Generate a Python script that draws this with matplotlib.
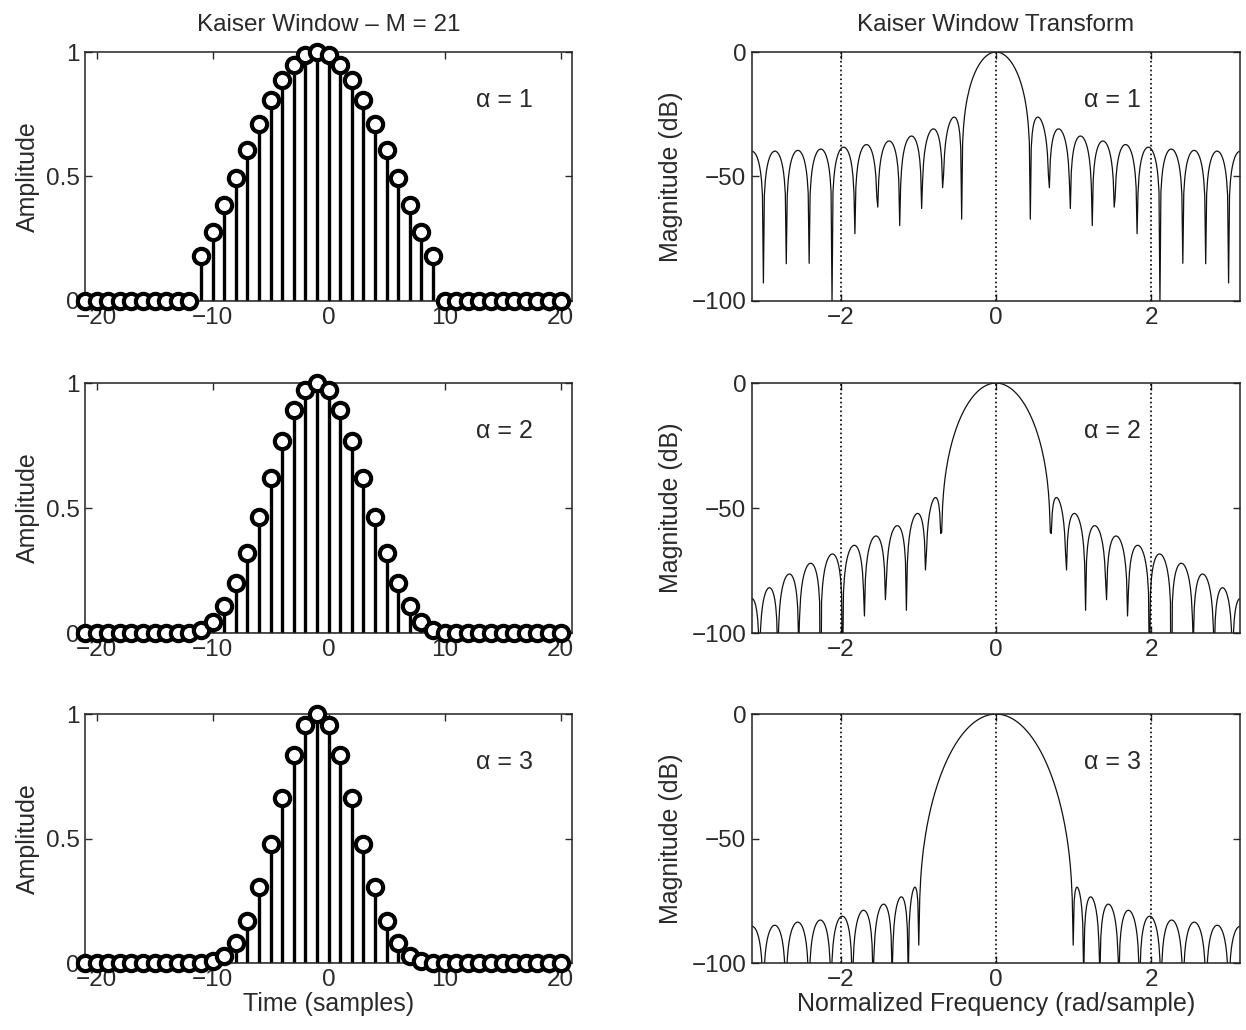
import numpy as np
import matplotlib.pyplot as plt

plt.rcParams['font.family'] = ['Liberation Sans', 'DejaVu Sans']
plt.rcParams['text.color'] = '#2a2a2a'
plt.rcParams['axes.labelcolor'] = '#2a2a2a'
plt.rcParams['xtick.color'] = '#2a2a2a'
plt.rcParams['ytick.color'] = '#2a2a2a'

# sample index axis and where the 21-point window sits on it
n_axis = np.arange(-21, 21)
win_start = -11

# left half of each window (first sample up to the peak), windows are symmetric
alphas = [1, 2, 3]
half_a1 = [0.18255, 0.27870, 0.38448, 0.49548, 0.60671, 0.71281, 0.80848, 0.88876, 0.94942, 0.98718, 1.00000]
half_a2 = [0.01148, 0.04547, 0.10648, 0.19842, 0.32022, 0.46486, 0.61958, 0.76748, 0.89026, 0.97155, 1.00000]
half_a3 = [0.00061, 0.00760, 0.03008, 0.08049, 0.17041, 0.30470, 0.47623, 0.66378, 0.83535, 0.95633, 1.00000]
halves = [half_a1, half_a2, half_a3]

n_freq = 512


def full_window(half):
    half = np.array(half)
    return np.concatenate([half, half[-2::-1]])


def transform_db(w):
    # DTFT of the window on a grid over [-pi, pi)
    omega = np.linspace(-np.pi, np.pi, n_freq, endpoint=False)
    k = np.arange(len(w)) - (len(w) - 1) / 2
    H = np.abs(np.exp(-1j * np.outer(omega, k)) @ w)
    return omega, 20 * np.log10(H / H.max() + 1e-12)


def style_axes(ax):
    ax.tick_params(direction='in', top=True, right=True, length=5, width=1,
                   labelsize=17.5, pad=4)
    for s in ax.spines.values():
        s.set_linewidth(1.1)
        s.set_color('#222222')


fig = plt.figure(figsize=(12.46, 10.30), dpi=100)
rows = [(0.7078, 0.2417), (0.3854, 0.2427), (0.0650, 0.2417)]

for i, (a, half) in enumerate(zip(alphas, halves)):
    bottom, height = rows[i]
    w = full_window(half)
    vals = np.zeros(len(n_axis))
    start = win_start - n_axis[0]
    vals[start:start + len(w)] = w

    # window (stem plot)
    ax = fig.add_axes([0.0682, bottom, 0.391, height])
    ml, sl, bl = ax.stem(n_axis, vals, linefmt='k-', markerfmt='ko', basefmt='k-')
    plt.setp(sl, linewidth=2.4, color='black')
    plt.setp(ml, markersize=11, markerfacecolor='white', markeredgecolor='black',
             markeredgewidth=3, clip_on=False, zorder=5)
    plt.setp(bl, linewidth=1)
    ax.set_xlim(-21, 21)
    ax.set_ylim(0, 1)
    ax.set_xticks([-20, -10, 0, 10, 20])
    ax.set_yticks([0, 0.5, 1])
    ax.set_yticklabels(['0', '0.5', '1'])
    ax.set_ylabel('Amplitude', fontsize=18, labelpad=4)
    ax.text(0.862, 0.807, '\u03b1 = %d' % a, transform=ax.transAxes,
            fontsize=18, ha='center', va='center')
    style_axes(ax)
    if i == 0:
        ax.set_title('Kaiser Window \u2013 M = 21', fontsize=17.5, pad=15)
    if i == 2:
        ax.set_xlabel('Time (samples)', fontsize=18, labelpad=1)

    # transform magnitude
    ax2 = fig.add_axes([0.6035, bottom, 0.3917, height])
    omega, db = transform_db(w)
    ax2.plot(omega, db, color='#111111', linewidth=0.9)
    for xv in (-2, 0, 2):
        ax2.axvline(xv, color='black', linestyle=':', linewidth=1.2)
    ax2.set_xlim(-np.pi, np.pi)
    ax2.set_ylim(-100, 0)
    ax2.set_xticks([-2, 0, 2])
    ax2.set_yticks([-100, -50, 0])
    ax2.set_ylabel('Magnitude (dB)', fontsize=18, labelpad=6)
    ax2.text(0.738, 0.807, '\u03b1 = %d' % a, transform=ax2.transAxes,
             fontsize=18, ha='center', va='center')
    style_axes(ax2)
    if i == 0:
        ax2.set_title('Kaiser Window Transform', fontsize=17.5, pad=15)
    if i == 2:
        ax2.set_xlabel('Normalized Frequency (rad/sample)', fontsize=18, labelpad=1)

fig.savefig('out.png', dpi=100)
